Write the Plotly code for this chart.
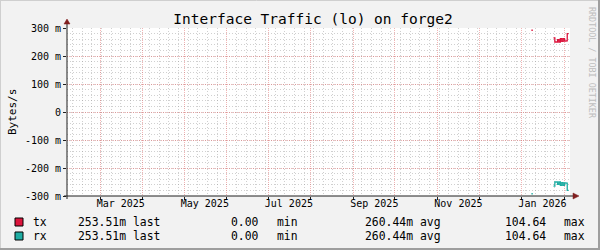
import plotly.graph_objects as go

# ---------------- data ----------------
sample_dates = ["2026-01-08", "2026-01-09", "2026-01-10",
                "2026-01-24", "2026-01-25", "2026-01-26", "2026-01-27",
                "2026-01-28", "2026-01-29", "2026-01-30", "2026-01-31",
                "2026-02-01", "2026-02-02", "2026-02-03", "2026-02-04"]
tx_bytes = [0.292, 0.292, None,
            0.265, 0.250, 0.250, 0.258, 0.250, 0.262, 0.252, 0.262,
            0.253, 0.254, 0.280, 0.280]
rx_bytes = [0.292, 0.292, None,
            0.265, 0.250, 0.250, 0.258, 0.250, 0.262, 0.252, 0.262,
            0.253, 0.254, 0.280, 0.280]

y_tick_vals = [-0.3, -0.2, -0.1, 0.0, 0.1, 0.2, 0.3]
y_tick_text = ["-300 m", "-200 m", "-100 m", "0", "100 m", "200 m", "300 m"]

x_label_dates = ["2025-03-16", "2025-05-16", "2025-07-16",
                 "2025-09-16", "2025-11-16", "2026-01-16"]
x_label_text = ["Mar 2025", "May 2025", "Jul 2025",
                "Sep 2025", "Nov 2025", "Jan 2026"]

series_names = ["tx", "rx"]
legend_last = ["253.51m", "253.51m"]
legend_min = ["0.00", "0.00"]
legend_avg = ["260.44m", "260.44m"]
legend_max = ["104.64", "104.64"]

# ---------------- style ----------------
W, H = 600, 250
L, R, T, B = 67, 570, 28, 196
FONT = "DejaVu Sans Mono"
TX_COL = "#DC143C"
RX_COL = "#1FADA3"
BACK = "#F2F2F2"
MGRID = "rgba(222,79,79,0.42)"
GRID = "rgba(143,143,143,0.42)"
ARROW = "#801F1F"
AXIS = "#1F1F1F"
X_RANGE = ["2025-02-05", "2026-02-05"]


def px(p):
    return (p - L) / (R - L)


def py(p):
    return (B - p) / (B - T)


fig = go.Figure()
fig.add_trace(go.Scatter(x=sample_dates, y=tx_bytes, mode="lines",
                         line=dict(color=TX_COL, width=1.3, shape="hv"),
                         connectgaps=False, showlegend=False, hoverinfo="skip"))
fig.add_trace(go.Scatter(x=sample_dates, y=[None if v is None else -v for v in rx_bytes],
                         mode="lines",
                         line=dict(color=RX_COL, width=1.3, shape="hv"),
                         connectgaps=False, showlegend=False, hoverinfo="skip"))
# invisible trace carrying the label axis
fig.add_trace(go.Scatter(x=[X_RANGE[0]], y=[None], xaxis="x2", mode="lines",
                         showlegend=False, hoverinfo="skip"))

fig.update_layout(
    width=W, height=H,
    margin=dict(l=L, r=W - R, t=T, b=H - B, pad=0),
    paper_bgcolor=BACK, plot_bgcolor="#FFFFFF",
    font=dict(family=FONT, size=10, color="#000000"),
    title=dict(text="Interface Traffic (lo) on forge2", x=313 / W, y=1 - 19 / H,
               xref="container", yref="container", xanchor="center", yanchor="middle",
               font=dict(family=FONT, size=14.5, color="#000000")),
    xaxis=dict(type="date", range=X_RANGE, showline=False, zeroline=False,
               dtick="M1", tick0="2025-01-01", showticklabels=False,
               ticks="outside", ticklen=3, tickcolor=AXIS,
               showgrid=True, gridcolor=MGRID, griddash="1px,1px", gridwidth=1,
               minor=dict(dtick=7 * 86400000, tick0="2025-02-23", showgrid=True,
                          gridcolor=GRID, griddash="1px,2px", gridwidth=1, ticks="")),
    xaxis2=dict(type="date", range=X_RANGE, overlaying="x", side="bottom",
                tickvals=x_label_dates, ticktext=x_label_text, showgrid=False,
                showline=False, zeroline=False, ticks="",
                tickfont=dict(family=FONT, size=10, color="#000000")),
    yaxis=dict(range=[-0.3, 0.3], tickvals=y_tick_vals, ticktext=y_tick_text,
               showline=False, zeroline=False, ticks="outside", ticklen=3,
               tickcolor=AXIS, showgrid=True, gridcolor=MGRID, griddash="1px,1px",
               gridwidth=1, tickfont=dict(family=FONT, size=10, color="#000000"),
               minor=dict(dtick=0.02, tick0=0, showgrid=True, gridcolor=GRID,
                          griddash="1px,2px", gridwidth=1, ticks="")),
)

shapes = []
# axis lines
shapes.append(dict(type="line", xref="paper", yref="paper", x0=px(L), x1=px(L),
                   y0=py(B + 3), y1=py(T - 4), line=dict(color=AXIS, width=1)))
shapes.append(dict(type="line", xref="paper", yref="paper", x0=px(L - 3), x1=px(R + 4),
                   y0=py(B), y1=py(B), line=dict(color=AXIS, width=1)))
# arrows
shapes.append(dict(type="path", xref="paper", yref="paper",
                   path=f"M {px(L-3)} {py(T-4)} L {px(L+3)} {py(T-4)} L {px(L)} {py(T-9)} Z",
                   fillcolor=ARROW, line=dict(color=ARROW, width=0.5)))
shapes.append(dict(type="path", xref="paper", yref="paper",
                   path=f"M {px(R+3)} {py(B-3)} L {px(R+3)} {py(B+3)} L {px(R+9)} {py(B)} Z",
                   fillcolor=ARROW, line=dict(color=ARROW, width=0.5)))
# frame shading
shapes.append(dict(type="line", xref="paper", yref="paper", x0=px(0), x1=px(W),
                   y0=py(0.5), y1=py(0.5), line=dict(color="#CFCFCF", width=1)))
shapes.append(dict(type="line", xref="paper", yref="paper", x0=px(0.5), x1=px(0.5),
                   y0=py(0), y1=py(H), line=dict(color="#CFCFCF", width=1)))
shapes.append(dict(type="line", xref="paper", yref="paper", x0=px(0), x1=px(W),
                   y0=py(H - 1), y1=py(H - 1), line=dict(color="#9E9E9E", width=2)))
shapes.append(dict(type="line", xref="paper", yref="paper", x0=px(W - 1), x1=px(W - 1),
                   y0=py(0), y1=py(H), line=dict(color="#9E9E9E", width=2)))

annotations = []
# y title
annotations.append(dict(text="Bytes/s", xref="paper", yref="paper", x=px(12), y=py(112),
                        textangle=-90, showarrow=False, xanchor="center", yanchor="middle",
                        font=dict(family=FONT, size=11, color="#000000")))
# watermark
annotations.append(dict(text="RRDTOOL / TOBI OETIKER", xref="paper", yref="paper",
                        x=px(592), y=py(5), textangle=90, showarrow=False,
                        xanchor="center", yanchor="top",
                        font=dict(family=FONT, size=8.4, color="#BDBDBD")))

row_y = [222, 236]
box_y = [(218, 226), (232, 240)]
cols = [TX_COL, RX_COL]
lf = dict(family=FONT, size=11.4, color="#000000")
for i in range(2):
    shapes.append(dict(type="rect", xref="paper", yref="paper",
                       x0=px(15), x1=px(23), y0=py(box_y[i][0]), y1=py(box_y[i][1]),
                       fillcolor=cols[i], line=dict(color="#000000", width=1)))
    y = py(row_y[i])
    items = [(series_names[i], 31, "left"),
             (legend_last[i], 76, "left"), ("last", 131, "left"),
             (legend_min[i], 261, "right"), ("min", 275, "left"),
             (legend_avg[i], 363, "left"), ("avg", 418, "left"),
             (legend_max[i], 548, "right"), ("max", 562, "left")]
    for text, xp, anc in items:
        annotations.append(dict(text=text, xref="paper", yref="paper", x=px(xp), y=y,
                                showarrow=False, xanchor=anc, yanchor="middle",
                                font=lf))

fig.update_layout(shapes=shapes, annotations=annotations)
fig.write_html("out.html")
